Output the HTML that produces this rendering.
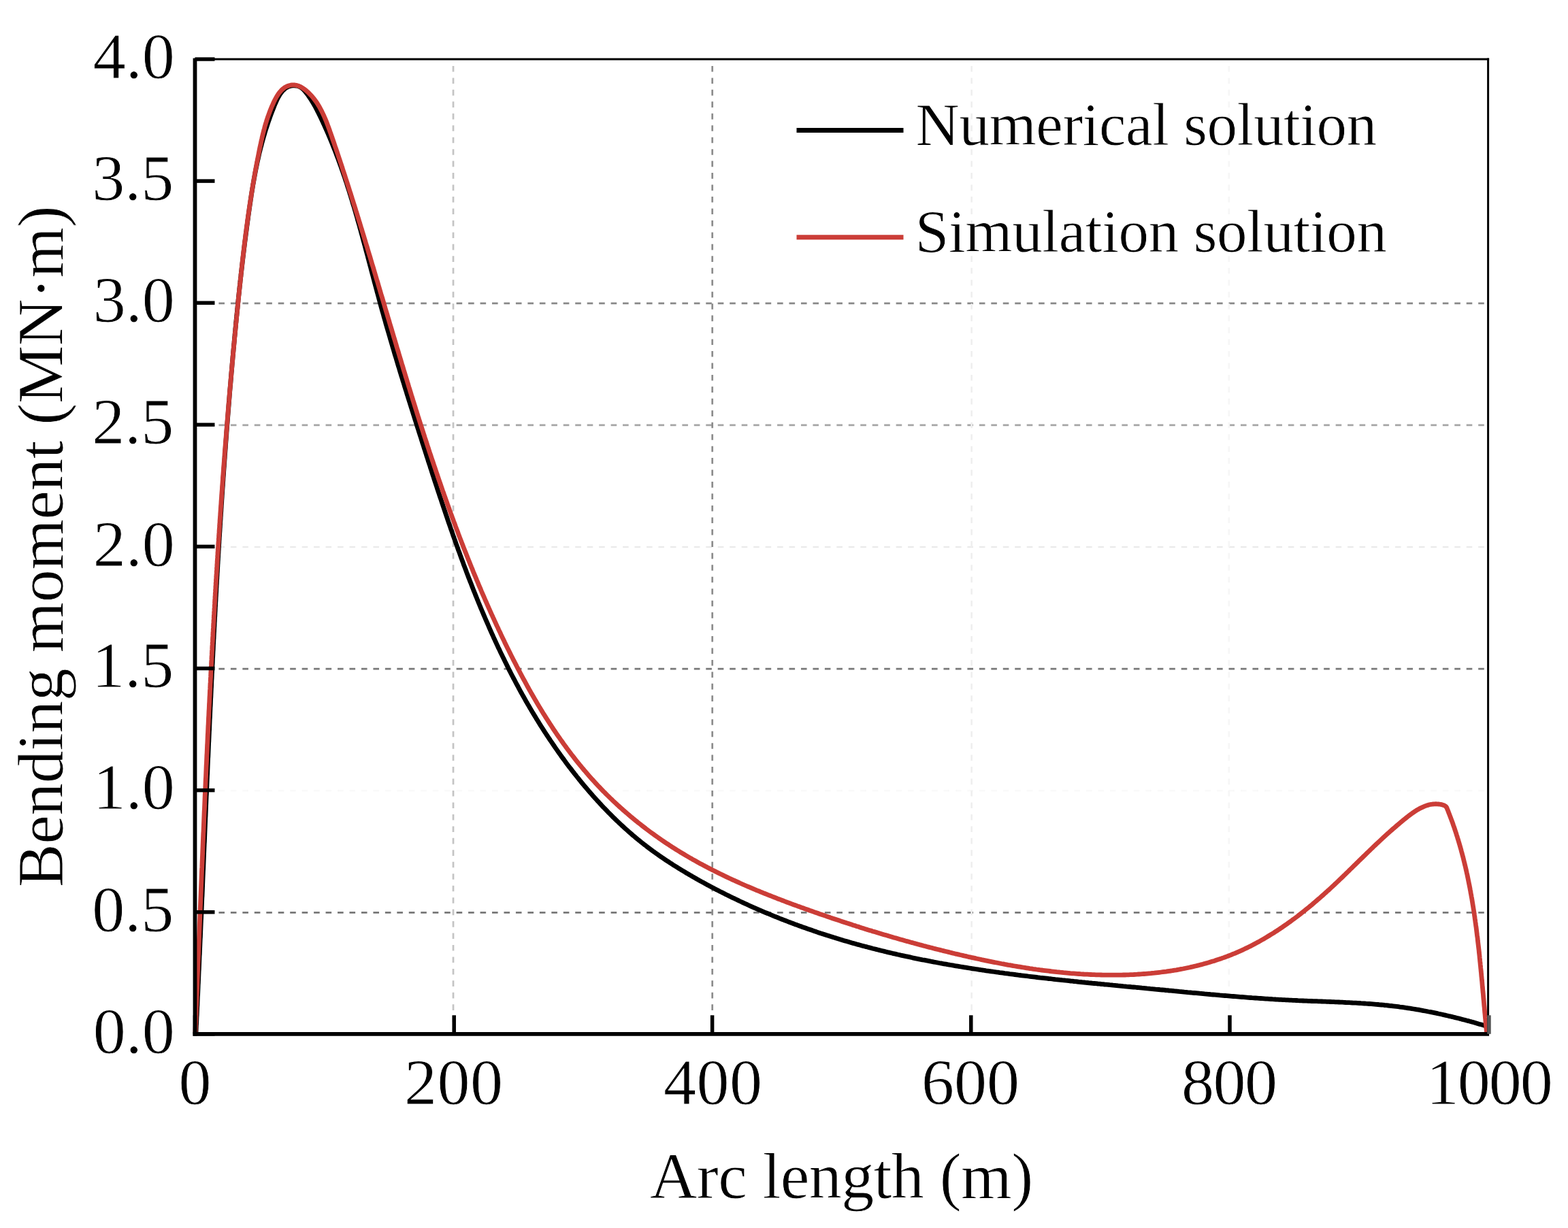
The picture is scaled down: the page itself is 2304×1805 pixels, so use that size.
<!DOCTYPE html>
<html><head><meta charset="utf-8"><title>Bending moment vs arc length</title>
<style>
html,body{margin:0;padding:0;background:#fff;}
body{width:2304px;height:1805px;overflow:hidden;}
svg{display:block;}
.t{font-family:"Liberation Serif","Times New Roman",serif;font-size:96px;fill:#000;stroke:#fff;stroke-width:0.8px;}
.l{font-family:"Liberation Serif","Times New Roman",serif;font-size:89px;fill:#000;stroke:#fff;stroke-width:0.8px;}
</style></head><body>
<svg width="2304" height="1805" viewBox="0 0 2304 1805">
<rect width="2304" height="1805" fill="#fff"/>
<line x1="286.5" y1="1341.3" x2="2185.0" y2="1341.3" stroke="#777777" stroke-width="2.7" stroke-dasharray="8.6 8.86"/>
<line x1="286.5" y1="1162.2" x2="2185.0" y2="1162.2" stroke="#f9f9f9" stroke-width="2.7" stroke-dasharray="8.6 8.86"/>
<line x1="286.5" y1="983.1" x2="2185.0" y2="983.1" stroke="#787878" stroke-width="2.7" stroke-dasharray="8.6 8.86"/>
<line x1="286.5" y1="804.0" x2="2185.0" y2="804.0" stroke="#ebebeb" stroke-width="2.7" stroke-dasharray="8.6 8.86"/>
<line x1="286.5" y1="624.9" x2="2185.0" y2="624.9" stroke="#a5a5a5" stroke-width="2.7" stroke-dasharray="8.6 8.86"/>
<line x1="286.5" y1="445.8" x2="2185.0" y2="445.8" stroke="#888888" stroke-width="2.7" stroke-dasharray="8.6 8.86"/>
<line x1="666.0" y1="1519.8" x2="666.0" y2="88.5" stroke="#c4c4c4" stroke-width="2.7" stroke-dasharray="8.6 8.86"/>
<line x1="1046.7" y1="1519.8" x2="1046.7" y2="88.5" stroke="#8c8c8c" stroke-width="2.7" stroke-dasharray="8.6 8.86"/>
<line x1="1427.7" y1="1519.8" x2="1427.7" y2="88.5" stroke="#efefef" stroke-width="2.7" stroke-dasharray="8.6 8.86"/>
<line x1="1805.8" y1="1519.8" x2="1805.8" y2="88.5" stroke="#f6f6f6" stroke-width="2.7" stroke-dasharray="8.6 8.86"/>
<path d="M288.5,1520.0 288.0,1517.5 288.1,1515.0 288.2,1512.5 288.3,1510.0 288.4,1507.5 288.6,1505.0 288.7,1502.5 288.8,1500.0 288.9,1497.5 289.0,1495.0 289.2,1492.5 289.3,1490.0 289.4,1487.5 289.5,1485.0 289.6,1482.5 289.7,1480.0 289.9,1477.5 290.0,1475.0 290.1,1472.5 290.2,1470.0 290.3,1467.5 290.4,1465.0 290.6,1462.5 290.7,1460.0 290.8,1457.5 290.9,1455.0 291.0,1452.5 291.1,1450.0 291.2,1447.5 291.4,1445.0 291.5,1442.5 291.6,1440.0 291.7,1437.5 291.8,1435.0 291.9,1432.5 292.0,1430.0 292.1,1427.5 292.3,1425.0 292.4,1422.5 292.5,1420.0 292.6,1417.5 292.7,1415.0 292.8,1412.5 292.9,1410.0 293.0,1407.5 293.1,1405.0 293.3,1402.5 293.4,1400.0 293.5,1397.5 293.6,1395.0 293.7,1392.5 293.8,1390.0 293.9,1387.5 294.0,1385.0 294.1,1382.5 294.2,1380.0 294.4,1377.5 294.5,1375.0 294.6,1372.5 294.7,1370.0 294.8,1367.5 294.9,1365.0 295.0,1362.5 295.1,1360.0 295.2,1357.5 295.3,1355.0 295.4,1352.5 295.6,1350.0 295.7,1347.5 295.8,1345.0 295.9,1342.5 296.0,1340.0 296.1,1337.5 296.2,1335.0 296.3,1332.5 296.4,1330.0 296.5,1327.5 296.6,1325.0 296.7,1322.5 296.8,1320.0 297.0,1317.5 297.1,1315.0 297.2,1312.5 297.3,1310.0 297.4,1307.5 297.5,1305.0 297.6,1302.5 297.7,1300.0 297.8,1297.5 297.9,1295.0 298.0,1292.5 298.1,1290.0 298.2,1287.5 298.3,1285.0 298.4,1282.5 298.5,1280.0 298.7,1277.5 298.8,1275.0 298.9,1272.5 299.0,1270.0 299.1,1267.5 299.2,1265.0 299.3,1262.5 299.4,1260.0 299.5,1257.5 299.6,1255.0 299.7,1252.5 299.8,1250.0 299.9,1247.5 300.0,1245.0 300.1,1242.5 300.2,1240.0 300.4,1237.5 300.5,1235.0 300.6,1232.5 300.7,1230.0 300.8,1227.5 300.9,1225.0 301.0,1222.5 301.1,1220.0 301.2,1217.5 301.3,1215.0 301.4,1212.5 301.5,1210.0 301.6,1207.5 301.7,1205.0 301.8,1202.5 302.0,1200.0 302.1,1197.5 302.2,1195.0 302.3,1192.5 302.4,1190.0 302.5,1187.5 302.6,1185.0 302.7,1182.5 302.8,1180.0 302.9,1177.5 303.0,1175.0 303.1,1172.5 303.2,1170.0 303.4,1167.5 303.5,1165.0 303.6,1162.5 303.7,1160.0 303.8,1157.5 303.9,1155.0 304.0,1152.5 304.1,1150.0 304.2,1147.5 304.3,1145.0 304.4,1142.5 304.5,1140.0 304.7,1137.5 304.8,1135.0 304.9,1132.5 305.0,1130.0 305.1,1127.5 305.2,1125.0 305.3,1122.5 305.4,1120.0 305.5,1117.5 305.6,1115.0 305.8,1112.5 305.9,1110.0 306.0,1107.5 306.1,1105.0 306.2,1102.5 306.3,1100.0 306.4,1097.5 306.5,1095.0 306.6,1092.5 306.8,1090.0 306.9,1087.6 307.0,1085.1 307.1,1082.6 307.2,1080.1 307.3,1077.6 307.4,1075.1 307.6,1072.6 307.7,1070.1 307.8,1067.6 307.9,1065.1 308.0,1062.6 308.1,1060.1 308.2,1057.6 308.4,1055.1 308.5,1052.6 308.6,1050.1 308.7,1047.6 308.8,1045.1 308.9,1042.6 309.0,1040.1 309.2,1037.6 309.3,1035.1 309.4,1032.6 309.5,1030.1 309.6,1027.6 309.8,1025.1 309.9,1022.6 310.0,1020.1 310.1,1017.6 310.2,1015.1 310.3,1012.6 310.5,1010.1 310.6,1007.6 310.7,1005.1 310.8,1002.6 310.9,1000.1 311.1,997.6 311.2,995.1 311.3,992.6 311.4,990.1 311.6,987.6 311.7,985.1 311.8,982.6 311.9,980.1 312.0,977.6 312.2,975.1 312.3,972.6 312.4,970.1 312.5,967.6 312.7,965.1 312.8,962.6 312.9,960.1 313.0,957.6 313.2,955.1 313.3,952.6 313.4,950.1 313.5,947.6 313.7,945.1 313.8,942.6 313.9,940.2 314.1,937.7 314.2,935.2 314.3,932.7 314.4,930.2 314.6,927.7 314.7,925.2 314.8,922.7 315.0,920.2 315.1,917.7 315.2,915.2 315.4,912.7 315.5,910.2 315.6,907.7 315.8,905.2 315.9,902.7 316.0,900.2 316.2,897.7 316.3,895.2 316.4,892.7 316.6,890.2 316.7,887.7 316.8,885.2 317.0,882.7 317.1,880.2 317.2,877.7 317.4,875.2 317.5,872.7 317.7,870.2 317.8,867.7 317.9,865.2 318.1,862.7 318.2,860.2 318.4,857.7 318.5,855.2 318.6,852.7 318.8,850.2 318.9,847.7 319.1,845.2 319.2,842.7 319.4,840.2 319.5,837.8 319.6,835.3 319.8,832.8 319.9,830.3 320.1,827.8 320.2,825.3 320.4,822.8 320.5,820.3 320.7,817.8 320.8,815.3 321.0,812.8 321.1,810.3 321.3,807.8 321.4,805.3 321.6,802.8 321.7,800.3 321.9,797.8 322.0,795.3 322.2,792.8 322.3,790.3 322.5,787.8 322.6,785.3 322.8,782.8 323.0,780.3 323.1,777.8 323.3,775.3 323.4,772.8 323.6,770.3 323.7,767.8 323.9,765.3 324.1,762.8 324.2,760.3 324.4,757.9 324.5,755.4 324.7,752.9 324.9,750.4 325.0,747.9 325.2,745.4 325.3,742.9 325.5,740.4 325.7,737.9 325.8,735.4 326.0,732.9 326.2,730.4 326.3,727.9 326.5,725.4 326.7,722.9 326.8,720.4 327.0,717.9 327.2,715.4 327.4,712.9 327.5,710.4 327.7,707.9 327.9,705.4 328.0,702.9 328.2,700.4 328.4,697.9 328.6,695.4 328.7,692.9 328.9,690.4 329.1,688.0 329.3,685.5 329.4,683.0 329.6,680.5 329.8,678.0 330.0,675.5 330.2,673.0 330.3,670.5 330.5,668.0 330.7,665.5 330.9,663.0 331.1,660.5 331.3,658.0 331.4,655.5 331.6,653.0 331.8,650.5 332.0,648.0 332.2,645.5 332.4,643.0 332.6,640.5 332.8,638.0 332.9,635.5 333.1,633.0 333.3,630.5 333.5,628.0 333.7,625.6 333.9,623.1 334.1,620.6 334.3,618.1 334.5,615.6 334.7,613.1 334.9,610.6 335.1,608.1 335.3,605.6 335.5,603.1 335.7,600.6 335.9,598.1 336.1,595.6 336.3,593.1 336.5,590.6 336.7,588.1 336.9,585.6 337.1,583.1 337.3,580.6 337.5,578.1 337.7,575.6 337.9,573.1 338.1,570.7 338.3,568.2 338.6,565.7 338.8,563.2 339.0,560.7 339.2,558.2 339.4,555.7 339.6,553.2 339.8,550.7 340.0,548.2 340.3,545.7 340.5,543.2 340.7,540.7 340.9,538.2 341.1,535.7 341.3,533.2 341.6,530.7 341.8,528.2 342.0,525.7 342.2,523.2 342.5,520.8 342.7,518.3 342.9,515.8 343.1,513.3 343.4,510.8 343.6,508.3 343.8,505.8 344.1,503.3 344.3,500.8 344.5,498.3 344.7,495.8 345.0,493.3 345.2,490.8 345.4,488.3 345.7,485.8 345.9,483.3 346.2,480.8 346.4,478.3 346.6,475.9 346.9,473.4 347.1,470.9 347.4,468.4 347.6,465.9 347.9,463.4 348.1,460.9 348.4,458.4 348.6,455.9 348.9,453.4 349.1,450.9 349.4,448.4 349.6,445.9 349.9,443.5 350.1,441.0 350.4,438.5 350.6,436.0 350.9,433.5 351.2,431.0 351.4,428.5 351.7,426.0 352.0,423.5 352.2,421.1 352.5,418.6 352.8,416.1 353.0,413.6 353.3,411.1 353.6,408.6 353.9,406.1 354.1,403.6 354.4,401.2 354.7,398.7 355.0,396.2 355.3,393.7 355.6,391.2 355.8,388.7 356.1,386.3 356.4,383.8 356.7,381.3 357.0,378.8 357.3,376.3 357.6,373.9 357.9,371.4 358.2,368.9 358.5,366.4 358.8,363.9 359.1,361.5 359.4,359.0 359.7,356.5 360.0,354.0 360.4,351.6 360.7,349.1 361.0,346.6 361.3,344.1 361.6,341.7 362.0,339.2 362.3,336.7 362.6,334.3 362.9,331.8 363.3,329.3 363.6,326.8 363.9,324.4 364.3,321.9 364.6,319.4 364.9,317.0 365.3,314.5 365.6,312.0 366.0,309.6 366.3,307.1 366.7,304.7 367.0,302.2 367.4,299.7 367.8,297.3 368.1,294.8 368.5,292.4 368.9,289.9 369.2,287.4 369.6,285.0 370.0,282.5 370.4,280.1 370.8,277.6 371.2,275.2 371.6,272.7 372.0,270.3 372.5,267.8 372.9,265.4 373.3,262.9 373.8,260.5 374.2,258.0 374.7,255.6 375.1,253.1 375.6,250.7 376.1,248.2 376.6,245.8 377.1,243.3 377.6,240.9 378.1,238.4 378.6,236.0 379.2,233.6 379.7,231.1 380.3,228.7 380.8,226.2 381.4,223.8 382.0,221.4 382.6,218.9 383.2,216.5 383.9,214.1 384.5,211.6 385.1,209.2 385.8,206.8 386.5,204.3 387.2,201.9 387.9,199.5 388.6,197.0 389.3,194.6 390.0,192.2 390.8,189.7 391.6,187.3 392.4,184.9 393.2,182.5 394.0,180.0 394.8,177.6 395.7,175.2 396.5,172.8 397.4,170.4 398.3,167.9 399.2,165.5 400.1,163.1 401.1,160.7 402.1,158.3 403.0,155.8 404.0,153.4 405.1,151.0 406.1,148.7 407.2,146.3 408.3,144.1 409.5,141.9 410.8,139.7 412.1,137.7 413.5,135.8 414.9,134.0 416.5,132.4 418.1,130.9 419.8,129.5 421.6,128.4 423.6,127.4 425.6,126.7 427.8,126.1 430.1,125.8 432.5,125.8 435.0,126.0 437.5,126.5 439.9,127.4 442.1,128.5 444.1,130.0 446.0,131.8 447.7,133.7 449.3,135.7 450.9,137.7 452.5,139.7 453.9,141.8 455.4,143.9 456.8,146.0 458.1,148.1 459.4,150.3 460.7,152.4 461.9,154.6 463.2,156.8 464.3,159.0 465.5,161.3 466.6,163.5 467.8,165.7 468.9,168.0 470.0,170.2 471.1,172.5 472.1,174.7 473.2,177.0 474.3,179.3 475.3,181.5 476.4,183.8 477.4,186.1 478.4,188.4 479.4,190.7 480.4,192.9 481.4,195.2 482.4,197.5 483.4,199.8 484.4,202.1 485.3,204.4 486.3,206.7 487.2,209.0 488.2,211.3 489.1,213.7 490.0,216.0 490.9,218.3 491.9,220.6 492.8,223.0 493.7,225.3 494.5,227.6 495.4,230.0 496.3,232.3 497.2,234.6 498.0,237.0 498.9,239.3 499.7,241.7 500.6,244.0 501.4,246.4 502.2,248.7 503.1,251.1 503.9,253.4 504.7,255.8 505.5,258.2 506.3,260.5 507.1,262.9 507.9,265.3 508.7,267.6 509.5,270.0 510.2,272.4 511.0,274.8 511.8,277.2 512.5,279.5 513.3,281.9 514.0,284.3 514.8,286.7 515.5,289.1 516.2,291.5 517.0,293.9 517.7,296.3 518.4,298.7 519.1,301.1 519.9,303.4 520.6,305.8 521.3,308.2 522.0,310.7 522.7,313.1 523.4,315.5 524.1,317.9 524.8,320.3 525.4,322.7 526.1,325.1 526.8,327.5 527.5,329.9 528.2,332.3 528.8,334.7 529.5,337.1 530.2,339.6 530.8,342.0 531.5,344.4 532.2,346.8 532.8,349.2 533.5,351.6 534.1,354.1 534.8,356.5 535.4,358.9 536.1,361.3 536.7,363.7 537.4,366.2 538.0,368.6 538.7,371.0 539.3,373.4 540.0,375.8 540.6,378.3 541.3,380.7 541.9,383.1 542.5,385.5 543.2,387.9 543.8,390.4 544.5,392.8 545.1,395.2 545.7,397.6 546.4,400.1 547.0,402.5 547.7,404.9 548.3,407.3 548.9,409.7 549.6,412.2 550.2,414.6 550.9,417.0 551.5,419.4 552.2,421.8 552.8,424.2 553.5,426.7 554.1,429.1 554.8,431.5 555.4,433.9 556.1,436.3 556.7,438.7 557.4,441.1 558.0,443.5 558.7,446.0 559.3,448.4 560.0,450.8 560.7,453.2 561.3,455.6 562.0,458.0 562.7,460.4 563.4,462.8 564.0,465.2 564.7,467.6 565.4,470.0 566.1,472.4 566.7,474.8 567.4,477.2 568.1,479.6 568.8,482.0 569.5,484.4 570.2,486.8 570.9,489.1 571.6,491.5 572.3,493.9 573.0,496.3 573.7,498.7 574.4,501.1 575.1,503.5 575.8,505.9 576.5,508.3 577.2,510.7 577.9,513.0 578.6,515.4 579.3,517.8 580.0,520.2 580.7,522.6 581.5,525.0 582.2,527.3 582.9,529.7 583.6,532.1 584.3,534.5 585.0,536.9 585.8,539.3 586.5,541.6 587.2,544.0 587.9,546.4 588.7,548.8 589.4,551.2 590.1,553.5 590.9,555.9 591.6,558.3 592.3,560.7 593.1,563.0 593.8,565.4 594.5,567.8 595.3,570.2 596.0,572.6 596.8,574.9 597.5,577.3 598.2,579.7 599.0,582.1 599.7,584.4 600.5,586.8 601.2,589.2 602.0,591.6 602.7,594.0 603.5,596.3 604.2,598.7 605.0,601.1 605.7,603.5 606.5,605.8 607.2,608.2 608.0,610.6 608.7,613.0 609.5,615.4 610.2,617.7 611.0,620.1 611.7,622.5 612.5,624.9 613.2,627.2 614.0,629.6 614.8,632.0 615.5,634.4 616.3,636.8 617.0,639.1 617.8,641.5 618.6,643.9 619.3,646.3 620.1,648.7 620.8,651.1 621.6,653.4 622.4,655.8 623.1,658.2 623.9,660.6 624.7,663.0 625.4,665.4 626.2,667.7 626.9,670.1 627.7,672.5 628.5,674.9 629.2,677.3 630.0,679.7 630.8,682.1 631.6,684.4 632.3,686.8 633.1,689.2 633.9,691.6 634.6,694.0 635.4,696.4 636.2,698.8 637.0,701.1 637.7,703.5 638.5,705.9 639.3,708.3 640.1,710.7 640.9,713.1 641.7,715.5 642.4,717.8 643.2,720.2 644.0,722.6 644.8,725.0 645.6,727.4 646.4,729.8 647.2,732.2 648.0,734.5 648.8,736.9 649.6,739.3 650.4,741.7 651.2,744.1 652.0,746.5 652.8,748.8 653.6,751.2 654.4,753.6 655.2,756.0 656.0,758.4 656.8,760.7 657.6,763.1 658.4,765.5 659.2,767.9 660.1,770.2 660.9,772.6 661.7,775.0 662.5,777.4 663.4,779.7 664.2,782.1 665.0,784.5 665.8,786.9 666.7,789.2 667.5,791.6 668.4,794.0 669.2,796.3 670.0,798.7 670.9,801.1 671.7,803.4 672.6,805.8 673.4,808.2 674.3,810.5 675.2,812.9 676.0,815.2 676.9,817.6 677.7,820.0 678.6,822.3 679.5,824.7 680.4,827.0 681.2,829.4 682.1,831.7 683.0,834.1 683.9,836.4 684.8,838.8 685.6,841.1 686.5,843.5 687.4,845.8 688.3,848.2 689.2,850.5 690.1,852.8 691.0,855.2 692.0,857.5 692.9,859.9 693.8,862.2 694.7,864.5 695.6,866.9 696.5,869.2 697.5,871.5 698.4,873.8 699.3,876.2 700.3,878.5 701.2,880.8 702.2,883.1 703.1,885.5 704.1,887.8 705.0,890.1 706.0,892.4 706.9,894.7 707.9,897.0 708.9,899.3 709.9,901.6 710.8,903.9 711.8,906.2 712.8,908.5 713.8,910.8 714.8,913.1 715.8,915.4 716.8,917.7 717.8,920.0 718.8,922.3 719.8,924.6 720.8,926.9 721.8,929.2 722.8,931.4 723.9,933.7 724.9,936.0 725.9,938.3 727.0,940.5 728.0,942.8 729.1,945.1 730.1,947.3 731.2,949.6 732.2,951.9 733.3,954.1 734.4,956.4 735.4,958.6 736.5,960.9 737.6,963.1 738.7,965.4 739.8,967.6 740.9,969.8 742.0,972.1 743.1,974.3 744.2,976.5 745.3,978.8 746.4,981.0 747.5,983.2 748.6,985.5 749.8,987.7 750.9,989.9 752.0,992.1 753.2,994.3 754.3,996.5 755.5,998.7 756.7,1000.9 757.8,1003.1 759.0,1005.3 760.2,1007.5 761.4,1009.7 762.5,1011.9 763.7,1014.1 764.9,1016.3 766.1,1018.5 767.3,1020.6 768.5,1022.8 769.8,1025.0 771.0,1027.1 772.2,1029.3 773.4,1031.5 774.7,1033.6 775.9,1035.8 777.2,1037.9 778.4,1040.1 779.7,1042.2 781.0,1044.4 782.2,1046.5 783.5,1048.6 784.8,1050.8 786.1,1052.9 787.4,1055.0 788.7,1057.2 790.0,1059.3 791.3,1061.4 792.6,1063.5 793.9,1065.6 795.2,1067.7 796.6,1069.8 797.9,1071.9 799.3,1074.0 800.6,1076.1 802.0,1078.2 803.3,1080.3 804.7,1082.3 806.1,1084.4 807.5,1086.5 808.9,1088.6 810.3,1090.6 811.7,1092.7 813.1,1094.8 814.5,1096.8 815.9,1098.9 817.3,1100.9 818.7,1102.9 820.2,1105.0 821.6,1107.0 823.1,1109.1 824.5,1111.1 826.0,1113.1 827.5,1115.1 829.0,1117.1 830.4,1119.1 831.9,1121.2 833.4,1123.2 834.9,1125.2 836.4,1127.2 838.0,1129.1 839.5,1131.1 841.0,1133.1 842.6,1135.1 844.1,1137.1 845.7,1139.0 847.2,1141.0 848.8,1143.0 850.4,1144.9 851.9,1146.9 853.5,1148.8 855.1,1150.8 856.7,1152.7 858.3,1154.6 859.9,1156.6 861.6,1158.5 863.2,1160.4 864.8,1162.3 866.5,1164.2 868.1,1166.1 869.8,1168.0 871.4,1169.9 873.1,1171.8 874.8,1173.7 876.5,1175.5 878.2,1177.4 879.9,1179.2 881.6,1181.1 883.3,1182.9 885.0,1184.8 886.7,1186.6 888.5,1188.4 890.2,1190.2 892.0,1192.0 893.7,1193.8 895.5,1195.6 897.3,1197.4 899.0,1199.2 900.8,1201.0 902.6,1202.7 904.4,1204.5 906.2,1206.2 908.0,1207.9 909.9,1209.7 911.7,1211.4 913.5,1213.1 915.4,1214.8 917.2,1216.5 919.1,1218.2 920.9,1219.8 922.8,1221.5 924.7,1223.2 926.6,1224.8 928.4,1226.4 930.3,1228.1 932.3,1229.7 934.2,1231.3 936.1,1232.9 938.0,1234.5 940.0,1236.0 941.9,1237.6 943.8,1239.1 945.8,1240.7 947.8,1242.2 949.7,1243.7 951.7,1245.2 953.7,1246.7 955.7,1248.2 957.7,1249.7 959.7,1251.2 961.7,1252.6 963.7,1254.1 965.8,1255.5 967.8,1257.0 969.8,1258.4 971.9,1259.8 973.9,1261.2 976.0,1262.6 978.0,1264.0 980.1,1265.3 982.2,1266.7 984.3,1268.1 986.4,1269.4 988.4,1270.8 990.5,1272.1 992.6,1273.4 994.7,1274.7 996.9,1276.1 999.0,1277.4 1001.1,1278.7 1003.2,1279.9 1005.3,1281.2 1007.5,1282.5 1009.6,1283.8 1011.8,1285.0 1013.9,1286.3 1016.1,1287.5 1018.2,1288.8 1020.4,1290.0 1022.5,1291.2 1024.7,1292.5 1026.9,1293.7 1029.1,1294.9 1031.2,1296.1 1033.4,1297.3 1035.6,1298.5 1037.8,1299.7 1040.0,1300.9 1042.2,1302.1 1044.4,1303.2 1046.6,1304.4 1048.8,1305.6 1051.0,1306.7 1053.2,1307.9 1055.5,1309.0 1057.7,1310.2 1059.9,1311.3 1062.1,1312.4 1064.4,1313.5 1066.6,1314.7 1068.8,1315.8 1071.1,1316.9 1073.3,1318.0 1075.6,1319.1 1077.8,1320.2 1080.1,1321.2 1082.3,1322.3 1084.6,1323.4 1086.8,1324.5 1089.1,1325.5 1091.4,1326.6 1093.6,1327.6 1095.9,1328.7 1098.2,1329.7 1100.5,1330.8 1102.8,1331.8 1105.0,1332.8 1107.3,1333.8 1109.6,1334.8 1111.9,1335.8 1114.2,1336.8 1116.5,1337.8 1118.8,1338.8 1121.1,1339.8 1123.4,1340.8 1125.7,1341.8 1128.1,1342.7 1130.4,1343.7 1132.7,1344.7 1135.0,1345.6 1137.3,1346.6 1139.6,1347.5 1142.0,1348.4 1144.3,1349.4 1146.6,1350.3 1149.0,1351.2 1151.3,1352.1 1153.6,1353.0 1156.0,1353.9 1158.3,1354.8 1160.7,1355.7 1163.0,1356.6 1165.4,1357.5 1167.7,1358.4 1170.1,1359.2 1172.4,1360.1 1174.8,1361.0 1177.1,1361.8 1179.5,1362.7 1181.9,1363.5 1184.2,1364.3 1186.6,1365.2 1189.0,1366.0 1191.3,1366.8 1193.7,1367.6 1196.1,1368.5 1198.5,1369.3 1200.8,1370.1 1203.2,1370.9 1205.6,1371.7 1208.0,1372.4 1210.4,1373.2 1212.7,1374.0 1215.1,1374.8 1217.5,1375.5 1219.9,1376.3 1222.3,1377.0 1224.7,1377.8 1227.1,1378.5 1229.5,1379.3 1231.9,1380.0 1234.3,1380.7 1236.7,1381.4 1239.1,1382.2 1241.5,1382.9 1243.9,1383.6 1246.3,1384.3 1248.7,1385.0 1251.1,1385.7 1253.5,1386.4 1255.9,1387.0 1258.3,1387.7 1260.7,1388.4 1263.1,1389.0 1265.6,1389.7 1268.0,1390.4 1270.4,1391.0 1272.8,1391.6 1275.2,1392.3 1277.6,1392.9 1280.1,1393.5 1282.5,1394.2 1284.9,1394.8 1287.3,1395.4 1289.8,1396.0 1292.2,1396.6 1294.6,1397.2 1297.0,1397.8 1299.5,1398.4 1301.9,1399.0 1304.3,1399.6 1306.7,1400.1 1309.2,1400.7 1311.6,1401.3 1314.0,1401.8 1316.5,1402.4 1318.9,1403.0 1321.3,1403.5 1323.8,1404.1 1326.2,1404.6 1328.7,1405.1 1331.1,1405.7 1333.5,1406.2 1336.0,1406.7 1338.4,1407.2 1340.9,1407.8 1343.3,1408.3 1345.7,1408.8 1348.2,1409.3 1350.6,1409.8 1353.1,1410.3 1355.5,1410.8 1358.0,1411.2 1360.4,1411.7 1362.9,1412.2 1365.3,1412.7 1367.8,1413.2 1370.2,1413.6 1372.7,1414.1 1375.1,1414.5 1377.6,1415.0 1380.1,1415.5 1382.5,1415.9 1385.0,1416.4 1387.4,1416.8 1389.9,1417.2 1392.3,1417.7 1394.8,1418.1 1397.3,1418.5 1399.7,1418.9 1402.2,1419.4 1404.6,1419.8 1407.1,1420.2 1409.6,1420.6 1412.0,1421.0 1414.5,1421.4 1417.0,1421.8 1419.4,1422.2 1421.9,1422.6 1424.4,1423.0 1426.8,1423.4 1429.3,1423.8 1431.8,1424.2 1434.2,1424.5 1436.7,1424.9 1439.2,1425.3 1441.6,1425.7 1444.1,1426.0 1446.6,1426.4 1449.1,1426.8 1451.5,1427.1 1454.0,1427.5 1456.5,1427.8 1459.0,1428.2 1461.4,1428.5 1463.9,1428.9 1466.4,1429.2 1468.9,1429.6 1471.3,1429.9 1473.8,1430.2 1476.3,1430.6 1478.8,1430.9 1481.3,1431.2 1483.7,1431.6 1486.2,1431.9 1488.7,1432.2 1491.2,1432.5 1493.7,1432.8 1496.1,1433.2 1498.6,1433.5 1501.1,1433.8 1503.6,1434.1 1506.1,1434.4 1508.6,1434.7 1511.0,1435.0 1513.5,1435.3 1516.0,1435.6 1518.5,1435.9 1521.0,1436.2 1523.5,1436.5 1525.9,1436.8 1528.4,1437.1 1530.9,1437.3 1533.4,1437.6 1535.9,1437.9 1538.4,1438.2 1540.9,1438.5 1543.4,1438.7 1545.8,1439.0 1548.3,1439.3 1550.8,1439.6 1553.3,1439.8 1555.8,1440.1 1558.3,1440.4 1560.8,1440.7 1563.3,1440.9 1565.8,1441.2 1568.3,1441.4 1570.7,1441.7 1573.2,1442.0 1575.7,1442.2 1578.2,1442.5 1580.7,1442.7 1583.2,1443.0 1585.7,1443.3 1588.2,1443.5 1590.7,1443.8 1593.2,1444.0 1595.7,1444.3 1598.1,1444.5 1600.6,1444.8 1603.1,1445.0 1605.6,1445.3 1608.1,1445.5 1610.6,1445.7 1613.1,1446.0 1615.6,1446.2 1618.1,1446.5 1620.6,1446.7 1623.1,1447.0 1625.6,1447.2 1628.1,1447.4 1630.6,1447.7 1633.1,1447.9 1635.5,1448.2 1638.0,1448.4 1640.5,1448.6 1643.0,1448.9 1645.5,1449.1 1648.0,1449.3 1650.5,1449.6 1653.0,1449.8 1655.5,1450.1 1658.0,1450.3 1660.5,1450.5 1663.0,1450.8 1665.5,1451.0 1668.0,1451.2 1670.4,1451.5 1672.9,1451.7 1675.4,1451.9 1677.9,1452.2 1680.4,1452.4 1682.9,1452.6 1685.4,1452.9 1687.9,1453.1 1690.4,1453.4 1692.9,1453.6 1695.4,1453.8 1697.9,1454.1 1700.4,1454.3 1702.8,1454.5 1705.3,1454.8 1707.8,1455.0 1710.3,1455.2 1712.8,1455.5 1715.3,1455.7 1717.8,1456.0 1720.3,1456.2 1722.8,1456.4 1725.3,1456.7 1727.8,1456.9 1730.2,1457.1 1732.7,1457.4 1735.2,1457.6 1737.7,1457.8 1740.2,1458.1 1742.7,1458.3 1745.2,1458.6 1747.7,1458.8 1750.2,1459.0 1752.6,1459.3 1755.1,1459.5 1757.6,1459.7 1760.1,1459.9 1762.6,1460.2 1765.1,1460.4 1767.6,1460.6 1770.1,1460.9 1772.6,1461.1 1775.1,1461.3 1777.5,1461.5 1780.0,1461.8 1782.5,1462.0 1785.0,1462.2 1787.5,1462.4 1790.0,1462.6 1792.5,1462.9 1795.0,1463.1 1797.5,1463.3 1800.0,1463.5 1802.4,1463.7 1804.9,1463.9 1807.4,1464.1 1809.9,1464.3 1812.4,1464.5 1814.9,1464.7 1817.4,1464.9 1819.9,1465.1 1822.4,1465.3 1824.9,1465.5 1827.4,1465.7 1829.9,1465.9 1832.3,1466.1 1834.8,1466.3 1837.3,1466.5 1839.8,1466.7 1842.3,1466.8 1844.8,1467.0 1847.3,1467.2 1849.8,1467.4 1852.3,1467.5 1854.8,1467.7 1857.3,1467.9 1859.8,1468.1 1862.3,1468.2 1864.8,1468.4 1867.3,1468.5 1869.8,1468.7 1872.3,1468.8 1874.8,1469.0 1877.3,1469.1 1879.8,1469.3 1882.3,1469.4 1884.8,1469.6 1887.3,1469.7 1889.8,1469.8 1892.3,1469.9 1894.8,1470.1 1897.3,1470.2 1899.8,1470.3 1902.3,1470.4 1904.8,1470.5 1907.3,1470.7 1909.8,1470.8 1912.3,1470.9 1914.8,1471.0 1917.3,1471.1 1919.8,1471.2 1922.3,1471.3 1924.8,1471.4 1927.3,1471.5 1929.8,1471.6 1932.3,1471.6 1934.8,1471.7 1937.3,1471.8 1939.8,1471.9 1942.3,1472.0 1944.8,1472.1 1947.3,1472.2 1949.8,1472.3 1952.3,1472.4 1954.8,1472.5 1957.3,1472.6 1959.8,1472.7 1962.3,1472.8 1964.8,1472.9 1967.3,1473.0 1969.8,1473.1 1972.3,1473.2 1974.8,1473.3 1977.3,1473.5 1979.8,1473.6 1982.3,1473.7 1984.8,1473.8 1987.3,1474.0 1989.8,1474.1 1992.3,1474.2 1994.8,1474.4 1997.3,1474.5 1999.8,1474.7 2002.3,1474.8 2004.8,1475.0 2007.3,1475.2 2009.8,1475.3 2012.3,1475.5 2014.8,1475.7 2017.3,1475.9 2019.8,1476.1 2022.3,1476.3 2024.8,1476.5 2027.3,1476.8 2029.7,1477.0 2032.2,1477.2 2034.7,1477.5 2037.2,1477.7 2039.7,1478.0 2042.2,1478.3 2044.6,1478.5 2047.1,1478.8 2049.6,1479.1 2052.1,1479.4 2054.6,1479.7 2057.0,1480.1 2059.5,1480.4 2062.0,1480.7 2064.5,1481.1 2066.9,1481.5 2069.4,1481.8 2071.9,1482.2 2074.3,1482.6 2076.8,1483.0 2079.3,1483.4 2081.7,1483.8 2084.2,1484.2 2086.6,1484.7 2089.1,1485.1 2091.6,1485.6 2094.0,1486.0 2096.5,1486.5 2098.9,1487.0 2101.4,1487.4 2103.8,1487.9 2106.3,1488.4 2108.7,1488.9 2111.2,1489.4 2113.6,1490.0 2116.1,1490.5 2118.5,1491.0 2121.0,1491.6 2123.4,1492.1 2125.8,1492.7 2128.3,1493.3 2130.7,1493.8 2133.1,1494.4 2135.6,1495.0 2138.0,1495.6 2140.4,1496.2 2142.9,1496.8 2145.3,1497.4 2147.7,1498.1 2150.1,1498.7 2152.5,1499.3 2155.0,1500.0 2157.4,1500.6 2159.8,1501.3 2162.2,1501.9 2164.6,1502.6 2167.0,1503.3 2169.4,1504.0 2171.8,1504.7 2174.2,1505.4 2176.7,1506.1 2179.1,1506.8 2181.5,1507.5 2184.0,1507.5" fill="none" stroke="#000" stroke-width="6.8" stroke-linejoin="round"/>
<path d="M287.7,1520.0 287.0,1517.5 287.1,1515.0 287.2,1512.5 287.3,1510.0 287.4,1507.5 287.5,1505.0 287.6,1502.5 287.7,1500.0 287.8,1497.5 287.9,1495.0 288.0,1492.5 288.1,1490.0 288.2,1487.5 288.3,1485.0 288.4,1482.5 288.5,1480.0 288.6,1477.5 288.7,1475.0 288.8,1472.5 288.9,1470.0 289.0,1467.5 289.1,1465.0 289.2,1462.5 289.3,1460.0 289.4,1457.5 289.5,1455.0 289.6,1452.5 289.7,1450.0 289.8,1447.5 289.9,1444.9 290.0,1442.4 290.1,1439.9 290.2,1437.4 290.3,1434.9 290.4,1432.4 290.5,1429.9 290.6,1427.4 290.7,1424.9 290.8,1422.4 290.9,1419.9 291.0,1417.4 291.1,1414.9 291.2,1412.4 291.3,1409.9 291.4,1407.4 291.5,1404.9 291.6,1402.4 291.7,1399.9 291.8,1397.4 291.9,1394.9 292.0,1392.4 292.1,1389.9 292.2,1387.4 292.3,1384.9 292.4,1382.4 292.5,1379.9 292.6,1377.4 292.7,1374.9 292.8,1372.4 292.9,1369.9 293.0,1367.4 293.1,1364.9 293.2,1362.4 293.3,1359.9 293.4,1357.4 293.5,1354.9 293.6,1352.4 293.7,1349.9 293.8,1347.4 293.9,1344.9 294.0,1342.4 294.1,1339.9 294.2,1337.4 294.3,1334.9 294.4,1332.4 294.5,1329.9 294.6,1327.4 294.7,1324.9 294.8,1322.4 294.9,1319.9 295.0,1317.4 295.1,1314.9 295.2,1312.4 295.3,1309.9 295.4,1307.4 295.5,1304.9 295.6,1302.4 295.7,1299.9 295.8,1297.4 295.9,1294.9 296.0,1292.4 296.1,1289.9 296.2,1287.4 296.3,1284.9 296.4,1282.4 296.5,1279.9 296.6,1277.4 296.8,1274.9 296.9,1272.4 297.0,1269.9 297.1,1267.4 297.2,1264.9 297.3,1262.4 297.4,1259.9 297.5,1257.4 297.6,1254.9 297.7,1252.4 297.8,1249.9 297.9,1247.4 298.0,1244.9 298.1,1242.4 298.2,1239.8 298.3,1237.3 298.4,1234.8 298.5,1232.3 298.6,1229.8 298.7,1227.3 298.8,1224.8 299.0,1222.3 299.1,1219.8 299.2,1217.3 299.3,1214.8 299.4,1212.3 299.5,1209.8 299.6,1207.3 299.7,1204.8 299.8,1202.3 299.9,1199.8 300.0,1197.3 300.1,1194.8 300.2,1192.3 300.4,1189.8 300.5,1187.3 300.6,1184.8 300.7,1182.3 300.8,1179.8 300.9,1177.3 301.0,1174.8 301.1,1172.3 301.2,1169.8 301.3,1167.3 301.4,1164.8 301.6,1162.3 301.7,1159.8 301.8,1157.3 301.9,1154.8 302.0,1152.3 302.1,1149.8 302.2,1147.3 302.3,1144.8 302.5,1142.3 302.6,1139.8 302.7,1137.3 302.8,1134.8 302.9,1132.3 303.0,1129.8 303.1,1127.3 303.2,1124.8 303.4,1122.3 303.5,1119.8 303.6,1117.3 303.7,1114.8 303.8,1112.3 303.9,1109.8 304.1,1107.3 304.2,1104.8 304.3,1102.3 304.4,1099.8 304.5,1097.3 304.6,1094.8 304.8,1092.3 304.9,1089.8 305.0,1087.3 305.1,1084.8 305.2,1082.3 305.3,1079.8 305.5,1077.3 305.6,1074.8 305.7,1072.3 305.8,1069.8 305.9,1067.3 306.1,1064.8 306.2,1062.3 306.3,1059.8 306.4,1057.3 306.5,1054.8 306.7,1052.3 306.8,1049.8 306.9,1047.3 307.0,1044.8 307.2,1042.3 307.3,1039.8 307.4,1037.3 307.5,1034.8 307.7,1032.3 307.8,1029.8 307.9,1027.3 308.0,1024.8 308.2,1022.3 308.3,1019.9 308.4,1017.4 308.5,1014.9 308.7,1012.4 308.8,1009.9 308.9,1007.4 309.0,1004.9 309.2,1002.4 309.3,999.9 309.4,997.4 309.6,994.9 309.7,992.4 309.8,989.9 309.9,987.4 310.1,984.9 310.2,982.4 310.3,979.9 310.5,977.4 310.6,974.9 310.7,972.4 310.9,969.9 311.0,967.4 311.1,964.9 311.3,962.4 311.4,959.9 311.5,957.4 311.7,954.9 311.8,952.4 311.9,949.9 312.1,947.4 312.2,944.9 312.4,942.4 312.5,939.9 312.6,937.4 312.8,934.9 312.9,932.4 313.0,929.9 313.2,927.4 313.3,924.9 313.5,922.4 313.6,919.9 313.7,917.4 313.9,914.9 314.0,912.4 314.2,909.9 314.3,907.4 314.4,904.9 314.6,902.4 314.7,899.9 314.9,897.4 315.0,894.9 315.2,892.4 315.3,889.9 315.5,887.4 315.6,884.9 315.7,882.4 315.9,879.9 316.0,877.4 316.2,874.9 316.3,872.4 316.5,869.9 316.6,867.4 316.8,864.9 316.9,862.4 317.1,859.9 317.2,857.4 317.4,854.9 317.5,852.5 317.7,850.0 317.8,847.5 318.0,845.0 318.2,842.5 318.3,840.0 318.5,837.5 318.6,835.0 318.8,832.5 318.9,830.0 319.1,827.5 319.2,825.0 319.4,822.5 319.6,820.0 319.7,817.5 319.9,815.0 320.0,812.5 320.2,810.0 320.3,807.5 320.5,805.0 320.7,802.5 320.8,800.0 321.0,797.5 321.2,795.0 321.3,792.5 321.5,790.0 321.6,787.5 321.8,785.0 322.0,782.5 322.1,780.0 322.3,777.5 322.5,775.0 322.6,772.5 322.8,770.0 323.0,767.5 323.1,765.0 323.3,762.5 323.5,760.1 323.7,757.6 323.8,755.1 324.0,752.6 324.2,750.1 324.3,747.6 324.5,745.1 324.7,742.6 324.9,740.1 325.0,737.6 325.2,735.1 325.4,732.6 325.6,730.1 325.7,727.6 325.9,725.1 326.1,722.6 326.3,720.1 326.5,717.6 326.6,715.1 326.8,712.6 327.0,710.1 327.2,707.6 327.4,705.1 327.5,702.6 327.7,700.1 327.9,697.6 328.1,695.1 328.3,692.6 328.5,690.1 328.6,687.7 328.8,685.2 329.0,682.7 329.2,680.2 329.4,677.7 329.6,675.2 329.8,672.7 330.0,670.2 330.1,667.7 330.3,665.2 330.5,662.7 330.7,660.2 330.9,657.7 331.1,655.2 331.3,652.7 331.5,650.2 331.7,647.7 331.9,645.2 332.1,642.7 332.3,640.2 332.5,637.7 332.7,635.2 332.9,632.7 333.1,630.3 333.3,627.8 333.5,625.3 333.7,622.8 333.9,620.3 334.1,617.8 334.3,615.3 334.5,612.8 334.7,610.3 334.9,607.8 335.1,605.3 335.3,602.8 335.5,600.3 335.7,597.8 335.9,595.3 336.1,592.8 336.4,590.3 336.6,587.8 336.8,585.3 337.0,582.8 337.2,580.4 337.4,577.9 337.6,575.4 337.8,572.9 338.1,570.4 338.3,567.9 338.5,565.4 338.7,562.9 338.9,560.4 339.1,557.9 339.4,555.4 339.6,552.9 339.8,550.4 340.0,547.9 340.2,545.4 340.5,542.9 340.7,540.4 340.9,537.9 341.1,535.5 341.4,533.0 341.6,530.5 341.8,528.0 342.0,525.5 342.3,523.0 342.5,520.5 342.7,518.0 343.0,515.5 343.2,513.0 343.4,510.5 343.7,508.0 343.9,505.5 344.1,503.0 344.4,500.5 344.6,498.0 344.8,495.5 345.1,493.1 345.3,490.6 345.5,488.1 345.8,485.6 346.0,483.1 346.3,480.6 346.5,478.1 346.7,475.6 347.0,473.1 347.2,470.6 347.5,468.1 347.7,465.6 348.0,463.1 348.2,460.6 348.5,458.1 348.7,455.7 349.0,453.2 349.2,450.7 349.5,448.2 349.7,445.7 350.0,443.2 350.2,440.7 350.5,438.2 350.7,435.7 351.0,433.2 351.2,430.7 351.5,428.2 351.7,425.7 352.0,423.2 352.3,420.8 352.5,418.3 352.8,415.8 353.1,413.3 353.3,410.8 353.6,408.3 353.9,405.8 354.1,403.3 354.4,400.8 354.7,398.3 354.9,395.8 355.2,393.4 355.5,390.9 355.8,388.4 356.1,385.9 356.3,383.4 356.6,380.9 356.9,378.4 357.2,375.9 357.5,373.5 357.8,371.0 358.1,368.5 358.4,366.0 358.7,363.5 359.0,361.0 359.3,358.5 359.6,356.1 359.9,353.6 360.2,351.1 360.5,348.6 360.8,346.1 361.1,343.7 361.5,341.2 361.8,338.7 362.1,336.2 362.4,333.7 362.8,331.3 363.1,328.8 363.4,326.3 363.8,323.8 364.1,321.4 364.5,318.9 364.8,316.4 365.2,313.9 365.5,311.5 365.9,309.0 366.2,306.5 366.6,304.1 367.0,301.6 367.3,299.1 367.7,296.7 368.1,294.2 368.5,291.7 368.9,289.3 369.2,286.8 369.6,284.3 370.0,281.9 370.4,279.4 370.8,277.0 371.2,274.5 371.6,272.0 372.0,269.6 372.5,267.1 372.9,264.7 373.3,262.2 373.7,259.8 374.2,257.3 374.6,254.9 375.0,252.4 375.5,250.0 375.9,247.5 376.4,245.1 376.8,242.6 377.3,240.2 377.8,237.7 378.2,235.3 378.7,232.9 379.2,230.4 379.7,228.0 380.2,225.5 380.6,223.1 381.1,220.7 381.6,218.2 382.1,215.8 382.7,213.4 383.2,211.0 383.7,208.5 384.2,206.1 384.8,203.7 385.3,201.2 385.9,198.8 386.5,196.4 387.1,194.0 387.7,191.5 388.4,189.1 389.0,186.7 389.7,184.2 390.4,181.8 391.2,179.3 391.9,176.9 392.7,174.5 393.5,172.0 394.4,169.6 395.3,167.1 396.2,164.6 397.1,162.2 398.1,159.7 399.1,157.2 400.2,154.8 401.3,152.3 402.4,149.8 403.6,147.4 404.9,145.0 406.2,142.7 407.5,140.5 408.9,138.3 410.4,136.3 412.0,134.4 413.6,132.6 415.3,131.0 417.1,129.6 418.9,128.3 420.9,127.3 422.8,126.4 424.9,125.7 427.0,125.2 429.1,124.9 431.2,124.9 433.3,125.0 435.4,125.4 437.6,126.0 439.7,126.8 441.8,127.7 443.8,128.9 445.9,130.2 447.9,131.6 449.8,133.2 451.7,134.8 453.5,136.5 455.3,138.3 457.0,140.1 458.7,142.0 460.3,143.9 461.8,145.9 463.3,147.9 464.8,149.9 466.2,152.0 467.5,154.1 468.8,156.2 470.0,158.4 471.2,160.6 472.4,162.8 473.5,165.1 474.6,167.4 475.7,169.7 476.7,172.0 477.7,174.4 478.7,176.7 479.7,179.1 480.6,181.5 481.5,183.9 482.4,186.3 483.3,188.7 484.2,191.2 485.0,193.6 485.9,196.0 486.7,198.5 487.6,200.9 488.4,203.3 489.2,205.8 490.1,208.2 490.9,210.6 491.7,213.0 492.5,215.4 493.4,217.9 494.2,220.3 495.0,222.7 495.8,225.1 496.6,227.5 497.4,229.9 498.2,232.3 499.0,234.7 499.8,237.1 500.6,239.5 501.4,241.9 502.2,244.3 503.0,246.7 503.7,249.1 504.5,251.5 505.3,253.9 506.1,256.3 506.9,258.7 507.6,261.1 508.4,263.5 509.2,265.9 509.9,268.2 510.7,270.6 511.5,273.0 512.2,275.4 513.0,277.8 513.7,280.2 514.5,282.5 515.3,284.9 516.0,287.3 516.8,289.7 517.5,292.1 518.2,294.4 519.0,296.8 519.7,299.2 520.5,301.6 521.2,303.9 522.0,306.3 522.7,308.7 523.4,311.1 524.2,313.4 524.9,315.8 525.6,318.2 526.4,320.6 527.1,322.9 527.8,325.3 528.6,327.7 529.3,330.1 530.0,332.4 530.7,334.8 531.5,337.2 532.2,339.6 532.9,341.9 533.6,344.3 534.3,346.7 535.1,349.1 535.8,351.5 536.5,353.8 537.2,356.2 537.9,358.6 538.7,361.0 539.4,363.3 540.1,365.7 540.8,368.1 541.5,370.5 542.2,372.9 543.0,375.3 543.7,377.6 544.4,380.0 545.1,382.4 545.8,384.8 546.5,387.2 547.2,389.6 548.0,391.9 548.7,394.3 549.4,396.7 550.1,399.1 550.8,401.5 551.5,403.9 552.2,406.3 552.9,408.7 553.6,411.0 554.4,413.4 555.1,415.8 555.8,418.2 556.5,420.6 557.2,423.0 557.9,425.4 558.6,427.8 559.3,430.2 560.0,432.6 560.7,434.9 561.5,437.3 562.2,439.7 562.9,442.1 563.6,444.5 564.3,446.9 565.0,449.3 565.7,451.7 566.4,454.1 567.1,456.5 567.8,458.9 568.6,461.3 569.3,463.7 570.0,466.1 570.7,468.4 571.4,470.8 572.1,473.2 572.8,475.6 573.5,478.0 574.2,480.4 575.0,482.8 575.7,485.2 576.4,487.6 577.1,490.0 577.8,492.4 578.5,494.8 579.2,497.2 580.0,499.6 580.7,502.0 581.4,504.4 582.1,506.8 582.8,509.2 583.5,511.6 584.2,513.9 585.0,516.3 585.7,518.7 586.4,521.1 587.1,523.5 587.8,525.9 588.6,528.3 589.3,530.7 590.0,533.1 590.7,535.5 591.5,537.9 592.2,540.3 592.9,542.7 593.6,545.1 594.4,547.5 595.1,549.9 595.8,552.3 596.5,554.7 597.3,557.0 598.0,559.4 598.7,561.8 599.5,564.2 600.2,566.6 600.9,569.0 601.7,571.4 602.4,573.8 603.1,576.2 603.9,578.6 604.6,581.0 605.4,583.4 606.1,585.8 606.8,588.1 607.6,590.5 608.3,592.9 609.1,595.3 609.8,597.7 610.6,600.1 611.3,602.5 612.1,604.9 612.8,607.3 613.6,609.7 614.3,612.0 615.1,614.4 615.8,616.8 616.6,619.2 617.3,621.6 618.1,624.0 618.9,626.4 619.6,628.7 620.4,631.1 621.2,633.5 621.9,635.9 622.7,638.3 623.5,640.7 624.2,643.0 625.0,645.4 625.8,647.8 626.6,650.2 627.3,652.6 628.1,655.0 628.9,657.3 629.7,659.7 630.4,662.1 631.2,664.5 632.0,666.8 632.8,669.2 633.6,671.6 634.4,674.0 635.2,676.3 636.0,678.7 636.8,681.1 637.6,683.5 638.4,685.8 639.2,688.2 640.0,690.6 640.8,693.0 641.6,695.3 642.4,697.7 643.2,700.1 644.0,702.4 644.8,704.8 645.6,707.2 646.4,709.5 647.3,711.9 648.1,714.3 648.9,716.6 649.7,719.0 650.5,721.4 651.4,723.7 652.2,726.1 653.0,728.5 653.9,730.8 654.7,733.2 655.5,735.5 656.4,737.9 657.2,740.2 658.1,742.6 658.9,745.0 659.8,747.3 660.6,749.7 661.5,752.0 662.3,754.4 663.2,756.7 664.0,759.1 664.9,761.4 665.8,763.8 666.6,766.1 667.5,768.5 668.4,770.8 669.2,773.2 670.1,775.5 671.0,777.9 671.9,780.2 672.8,782.5 673.6,784.9 674.5,787.2 675.4,789.6 676.3,791.9 677.2,794.2 678.1,796.6 679.0,798.9 679.9,801.2 680.8,803.6 681.7,805.9 682.6,808.2 683.5,810.6 684.5,812.9 685.4,815.2 686.3,817.5 687.2,819.9 688.1,822.2 689.1,824.5 690.0,826.8 690.9,829.2 691.9,831.5 692.8,833.8 693.8,836.1 694.7,838.4 695.6,840.8 696.6,843.1 697.5,845.4 698.5,847.7 699.5,850.0 700.4,852.3 701.4,854.6 702.4,856.9 703.3,859.2 704.3,861.6 705.3,863.9 706.3,866.2 707.2,868.5 708.2,870.8 709.2,873.1 710.2,875.4 711.2,877.7 712.2,880.0 713.2,882.3 714.2,884.5 715.2,886.8 716.2,889.1 717.2,891.4 718.2,893.7 719.3,896.0 720.3,898.3 721.3,900.6 722.3,902.8 723.4,905.1 724.4,907.4 725.5,909.7 726.5,912.0 727.5,914.2 728.6,916.5 729.6,918.8 730.7,921.1 731.8,923.3 732.8,925.6 733.9,927.9 735.0,930.1 736.0,932.4 737.1,934.7 738.2,936.9 739.3,939.2 740.4,941.4 741.4,943.7 742.5,946.0 743.6,948.2 744.7,950.5 745.8,952.7 747.0,955.0 748.1,957.2 749.2,959.5 750.3,961.7 751.4,963.9 752.6,966.2 753.7,968.4 754.8,970.7 756.0,972.9 757.1,975.1 758.3,977.4 759.4,979.6 760.6,981.8 761.7,984.0 762.9,986.3 764.1,988.5 765.2,990.7 766.4,992.9 767.6,995.1 768.8,997.3 770.0,999.5 771.2,1001.7 772.4,1003.9 773.6,1006.1 774.8,1008.3 776.0,1010.5 777.2,1012.7 778.5,1014.9 779.7,1017.1 780.9,1019.3 782.2,1021.4 783.4,1023.6 784.7,1025.8 785.9,1027.9 787.2,1030.1 788.5,1032.3 789.7,1034.4 791.0,1036.6 792.3,1038.7 793.6,1040.8 794.9,1043.0 796.2,1045.1 797.5,1047.2 798.8,1049.4 800.2,1051.5 801.5,1053.6 802.8,1055.7 804.2,1057.8 805.5,1059.9 806.9,1062.0 808.2,1064.1 809.6,1066.2 811.0,1068.3 812.3,1070.4 813.7,1072.5 815.1,1074.5 816.5,1076.6 817.9,1078.7 819.3,1080.7 820.7,1082.8 822.2,1084.8 823.6,1086.9 825.0,1088.9 826.5,1090.9 827.9,1093.0 829.4,1095.0 830.9,1097.0 832.3,1099.0 833.8,1101.0 835.3,1103.0 836.8,1105.0 838.3,1107.0 839.8,1109.0 841.3,1110.9 842.9,1112.9 844.4,1114.9 845.9,1116.8 847.5,1118.8 849.0,1120.7 850.6,1122.6 852.2,1124.6 853.8,1126.5 855.3,1128.4 856.9,1130.3 858.5,1132.2 860.2,1134.1 861.8,1136.0 863.4,1137.9 865.0,1139.8 866.7,1141.7 868.3,1143.5 870.0,1145.4 871.7,1147.2 873.4,1149.1 875.0,1150.9 876.7,1152.7 878.4,1154.6 880.2,1156.4 881.9,1158.2 883.6,1160.0 885.4,1161.8 887.1,1163.6 888.9,1165.3 890.6,1167.1 892.4,1168.9 894.2,1170.6 896.0,1172.4 897.8,1174.1 899.6,1175.8 901.4,1177.6 903.2,1179.3 905.1,1181.0 906.9,1182.7 908.7,1184.4 910.6,1186.1 912.5,1187.8 914.3,1189.4 916.2,1191.1 918.1,1192.7 920.0,1194.4 921.9,1196.0 923.8,1197.6 925.7,1199.3 927.6,1200.9 929.6,1202.5 931.5,1204.1 933.4,1205.7 935.4,1207.2 937.3,1208.8 939.3,1210.4 941.3,1211.9 943.2,1213.5 945.2,1215.0 947.2,1216.5 949.2,1218.1 951.2,1219.6 953.2,1221.1 955.2,1222.6 957.2,1224.1 959.3,1225.5 961.3,1227.0 963.3,1228.5 965.4,1229.9 967.4,1231.4 969.5,1232.8 971.5,1234.2 973.6,1235.7 975.7,1237.1 977.7,1238.5 979.8,1239.8 981.9,1241.2 984.0,1242.6 986.1,1244.0 988.2,1245.3 990.3,1246.7 992.4,1248.0 994.5,1249.3 996.7,1250.6 998.8,1252.0 1000.9,1253.3 1003.0,1254.5 1005.2,1255.8 1007.3,1257.1 1009.5,1258.4 1011.6,1259.6 1013.8,1260.9 1016.0,1262.1 1018.1,1263.4 1020.3,1264.6 1022.5,1265.8 1024.6,1267.0 1026.8,1268.2 1029.0,1269.4 1031.2,1270.6 1033.4,1271.8 1035.6,1272.9 1037.8,1274.1 1040.0,1275.3 1042.2,1276.4 1044.4,1277.5 1046.7,1278.7 1048.9,1279.8 1051.1,1280.9 1053.3,1282.0 1055.6,1283.1 1057.8,1284.2 1060.0,1285.3 1062.3,1286.4 1064.5,1287.5 1066.8,1288.6 1069.0,1289.6 1071.3,1290.7 1073.6,1291.8 1075.8,1292.8 1078.1,1293.8 1080.4,1294.9 1082.6,1295.9 1084.9,1296.9 1087.2,1298.0 1089.5,1299.0 1091.7,1300.0 1094.0,1301.0 1096.3,1302.0 1098.6,1303.0 1100.9,1303.9 1103.2,1304.9 1105.5,1305.9 1107.8,1306.9 1110.1,1307.8 1112.4,1308.8 1114.7,1309.7 1117.0,1310.7 1119.4,1311.6 1121.7,1312.6 1124.0,1313.5 1126.3,1314.4 1128.6,1315.4 1131.0,1316.3 1133.3,1317.2 1135.6,1318.1 1138.0,1319.0 1140.3,1319.9 1142.6,1320.9 1145.0,1321.7 1147.3,1322.6 1149.6,1323.5 1152.0,1324.4 1154.3,1325.3 1156.7,1326.2 1159.0,1327.1 1161.4,1327.9 1163.7,1328.8 1166.1,1329.7 1168.4,1330.5 1170.8,1331.4 1173.1,1332.3 1175.5,1333.1 1177.8,1334.0 1180.2,1334.8 1182.6,1335.7 1184.9,1336.5 1187.3,1337.3 1189.7,1338.2 1192.0,1339.0 1194.4,1339.8 1196.7,1340.7 1199.1,1341.5 1201.5,1342.3 1203.9,1343.2 1206.2,1344.0 1208.6,1344.8 1211.0,1345.6 1213.3,1346.4 1215.7,1347.2 1218.1,1348.0 1220.5,1348.9 1222.8,1349.7 1225.2,1350.5 1227.6,1351.3 1230.0,1352.1 1232.4,1352.8 1234.7,1353.6 1237.1,1354.4 1239.5,1355.2 1241.9,1356.0 1244.3,1356.8 1246.7,1357.5 1249.0,1358.3 1251.4,1359.1 1253.8,1359.9 1256.2,1360.6 1258.6,1361.4 1261.0,1362.1 1263.4,1362.9 1265.8,1363.7 1268.2,1364.4 1270.5,1365.2 1272.9,1365.9 1275.3,1366.7 1277.7,1367.4 1280.1,1368.1 1282.5,1368.9 1284.9,1369.6 1287.3,1370.3 1289.7,1371.1 1292.1,1371.8 1294.5,1372.5 1296.9,1373.2 1299.3,1373.9 1301.7,1374.6 1304.1,1375.3 1306.5,1376.1 1309.0,1376.8 1311.4,1377.5 1313.8,1378.2 1316.2,1378.8 1318.6,1379.5 1321.0,1380.2 1323.4,1380.9 1325.8,1381.6 1328.2,1382.3 1330.6,1383.0 1333.0,1383.6 1335.5,1384.3 1337.9,1385.0 1340.3,1385.6 1342.7,1386.3 1345.1,1386.9 1347.5,1387.6 1350.0,1388.2 1352.4,1388.9 1354.8,1389.5 1357.2,1390.2 1359.6,1390.8 1362.0,1391.5 1364.5,1392.1 1366.9,1392.7 1369.3,1393.3 1371.7,1394.0 1374.2,1394.6 1376.6,1395.2 1379.0,1395.8 1381.4,1396.4 1383.9,1397.0 1386.3,1397.6 1388.7,1398.2 1391.1,1398.8 1393.6,1399.4 1396.0,1400.0 1398.4,1400.6 1400.8,1401.2 1403.3,1401.8 1405.7,1402.3 1408.1,1402.9 1410.6,1403.5 1413.0,1404.0 1415.4,1404.6 1417.9,1405.2 1420.3,1405.7 1422.7,1406.3 1425.2,1406.8 1427.6,1407.4 1430.0,1407.9 1432.5,1408.4 1434.9,1409.0 1437.3,1409.5 1439.8,1410.0 1442.2,1410.6 1444.7,1411.1 1447.1,1411.6 1449.5,1412.1 1452.0,1412.6 1454.4,1413.1 1456.9,1413.6 1459.3,1414.1 1461.8,1414.6 1464.2,1415.0 1466.7,1415.5 1469.1,1416.0 1471.5,1416.5 1474.0,1416.9 1476.4,1417.4 1478.9,1417.8 1481.3,1418.3 1483.8,1418.7 1486.3,1419.1 1488.7,1419.6 1491.2,1420.0 1493.6,1420.4 1496.1,1420.8 1498.5,1421.2 1501.0,1421.6 1503.5,1422.0 1505.9,1422.4 1508.4,1422.8 1510.8,1423.2 1513.3,1423.6 1515.8,1423.9 1518.2,1424.3 1520.7,1424.6 1523.2,1425.0 1525.6,1425.3 1528.1,1425.7 1530.6,1426.0 1533.1,1426.3 1535.5,1426.6 1538.0,1426.9 1540.5,1427.2 1543.0,1427.5 1545.4,1427.8 1547.9,1428.1 1550.4,1428.4 1552.9,1428.7 1555.4,1428.9 1557.9,1429.2 1560.3,1429.4 1562.8,1429.7 1565.3,1429.9 1567.8,1430.1 1570.3,1430.3 1572.8,1430.6 1575.3,1430.8 1577.8,1430.9 1580.3,1431.1 1582.8,1431.3 1585.3,1431.5 1587.8,1431.7 1590.3,1431.8 1592.8,1432.0 1595.3,1432.1 1597.8,1432.2 1600.3,1432.4 1602.8,1432.5 1605.3,1432.6 1607.8,1432.7 1610.4,1432.8 1612.9,1432.9 1615.4,1432.9 1617.9,1433.0 1620.4,1433.1 1623.0,1433.1 1625.5,1433.2 1628.0,1433.2 1630.5,1433.2 1633.0,1433.2 1635.6,1433.2 1638.1,1433.2 1640.6,1433.2 1643.1,1433.2 1645.6,1433.1 1648.2,1433.1 1650.7,1433.0 1653.2,1433.0 1655.7,1432.9 1658.3,1432.8 1660.8,1432.7 1663.3,1432.6 1665.8,1432.5 1668.3,1432.3 1670.9,1432.2 1673.4,1432.0 1675.9,1431.9 1678.4,1431.7 1680.9,1431.5 1683.4,1431.3 1685.9,1431.1 1688.4,1430.9 1690.9,1430.7 1693.5,1430.4 1696.0,1430.2 1698.5,1429.9 1701.0,1429.6 1703.5,1429.3 1705.9,1429.0 1708.4,1428.7 1710.9,1428.4 1713.4,1428.1 1715.9,1427.7 1718.4,1427.3 1720.9,1427.0 1723.3,1426.6 1725.8,1426.2 1728.3,1425.8 1730.7,1425.3 1733.2,1424.9 1735.7,1424.4 1738.1,1424.0 1740.6,1423.5 1743.0,1423.0 1745.5,1422.5 1747.9,1422.0 1750.4,1421.4 1752.8,1420.9 1755.2,1420.3 1757.6,1419.7 1760.1,1419.1 1762.5,1418.5 1764.9,1417.9 1767.3,1417.3 1769.7,1416.6 1772.1,1415.9 1774.5,1415.3 1776.9,1414.6 1779.3,1413.8 1781.6,1413.1 1784.0,1412.4 1786.4,1411.6 1788.7,1410.8 1791.1,1410.1 1793.5,1409.3 1795.8,1408.4 1798.1,1407.6 1800.5,1406.7 1802.8,1405.9 1805.1,1405.0 1807.4,1404.1 1809.8,1403.2 1812.1,1402.2 1814.4,1401.3 1816.6,1400.3 1818.9,1399.3 1821.2,1398.3 1823.5,1397.3 1825.7,1396.3 1828.0,1395.2 1830.2,1394.2 1832.5,1393.1 1834.7,1392.0 1837.0,1390.9 1839.2,1389.7 1841.4,1388.6 1843.6,1387.4 1845.8,1386.3 1848.0,1385.1 1850.2,1383.9 1852.4,1382.6 1854.5,1381.4 1856.7,1380.2 1858.9,1378.9 1861.0,1377.6 1863.2,1376.3 1865.3,1375.0 1867.4,1373.7 1869.6,1372.4 1871.7,1371.1 1873.8,1369.7 1875.9,1368.3 1878.0,1367.0 1880.1,1365.6 1882.2,1364.2 1884.3,1362.8 1886.3,1361.3 1888.4,1359.9 1890.5,1358.5 1892.5,1357.0 1894.6,1355.5 1896.6,1354.1 1898.6,1352.6 1900.7,1351.1 1902.7,1349.6 1904.7,1348.1 1906.7,1346.6 1908.7,1345.0 1910.7,1343.5 1912.7,1341.9 1914.6,1340.4 1916.6,1338.8 1918.6,1337.2 1920.5,1335.7 1922.5,1334.1 1924.4,1332.5 1926.4,1330.9 1928.3,1329.3 1930.2,1327.6 1932.1,1326.0 1934.0,1324.4 1935.9,1322.7 1937.8,1321.1 1939.7,1319.5 1941.6,1317.8 1943.5,1316.1 1945.3,1314.5 1947.2,1312.8 1949.1,1311.1 1950.9,1309.4 1952.8,1307.8 1954.6,1306.1 1956.4,1304.4 1958.2,1302.7 1960.1,1301.0 1961.9,1299.3 1963.7,1297.6 1965.5,1295.9 1967.3,1294.2 1969.1,1292.4 1970.9,1290.7 1972.7,1289.0 1974.4,1287.3 1976.2,1285.6 1978.0,1283.8 1979.8,1282.1 1981.6,1280.4 1983.3,1278.6 1985.1,1276.9 1986.9,1275.2 1988.7,1273.4 1990.4,1271.7 1992.2,1270.0 1994.0,1268.2 1995.8,1266.5 1997.5,1264.7 1999.3,1263.0 2001.1,1261.3 2002.9,1259.5 2004.7,1257.8 2006.4,1256.1 2008.2,1254.3 2010.0,1252.6 2011.8,1250.9 2013.6,1249.1 2015.4,1247.4 2017.2,1245.7 2019.0,1243.9 2020.8,1242.2 2022.6,1240.5 2024.5,1238.8 2026.3,1237.1 2028.1,1235.4 2030.0,1233.6 2031.8,1231.9 2033.6,1230.2 2035.5,1228.5 2037.4,1226.8 2039.2,1225.1 2041.1,1223.5 2043.0,1221.8 2044.9,1220.1 2046.8,1218.4 2048.7,1216.8 2050.7,1215.1 2052.6,1213.4 2054.5,1211.8 2056.5,1210.1 2058.4,1208.5 2060.4,1206.9 2062.4,1205.2 2064.4,1203.6 2066.4,1202.0 2068.4,1200.4 2070.5,1198.8 2072.5,1197.3 2074.6,1195.8 2076.6,1194.3 2078.7,1192.9 2080.8,1191.5 2082.9,1190.2 2085.1,1189.0 2087.2,1187.8 2089.4,1186.8 2091.6,1185.8 2093.8,1184.9 2096.0,1184.1 2098.2,1183.4 2100.5,1182.8 2102.8,1182.3 2105.1,1182.0 2107.4,1181.8 2109.7,1181.7 2112.1,1181.8 2114.5,1182.0 2116.9,1182.4 2119.3,1182.9 2121.8,1183.7 2124.3,1185.1 2125.8,1187.1 2126.7,1189.4 2127.7,1191.8 2128.6,1194.2 2129.5,1196.5 2130.4,1198.9 2131.3,1201.2 2132.2,1203.6 2133.1,1206.0 2134.0,1208.4 2134.8,1210.7 2135.6,1213.1 2136.5,1215.5 2137.3,1217.9 2138.1,1220.3 2138.9,1222.7 2139.7,1225.1 2140.4,1227.5 2141.2,1229.9 2141.9,1232.3 2142.7,1234.7 2143.4,1237.1 2144.1,1239.5 2144.8,1241.9 2145.5,1244.3 2146.2,1246.7 2146.9,1249.2 2147.5,1251.6 2148.2,1254.0 2148.8,1256.5 2149.5,1258.9 2150.1,1261.3 2150.7,1263.8 2151.3,1266.2 2151.9,1268.6 2152.5,1271.1 2153.1,1273.5 2153.7,1276.0 2154.2,1278.4 2154.8,1280.9 2155.3,1283.3 2155.9,1285.8 2156.4,1288.2 2156.9,1290.7 2157.4,1293.1 2157.9,1295.6 2158.4,1298.1 2158.9,1300.5 2159.4,1303.0 2159.9,1305.5 2160.3,1307.9 2160.8,1310.4 2161.2,1312.9 2161.7,1315.4 2162.1,1317.8 2162.6,1320.3 2163.0,1322.8 2163.4,1325.3 2163.8,1327.8 2164.2,1330.3 2164.6,1332.7 2165.0,1335.2 2165.4,1337.7 2165.8,1340.2 2166.2,1342.7 2166.5,1345.2 2166.9,1347.7 2167.2,1350.2 2167.6,1352.7 2167.9,1355.2 2168.3,1357.7 2168.6,1360.2 2169.0,1362.7 2169.3,1365.2 2169.6,1367.7 2169.9,1370.2 2170.2,1372.7 2170.5,1375.2 2170.9,1377.7 2171.2,1380.2 2171.4,1382.7 2171.7,1385.2 2172.0,1387.7 2172.3,1390.2 2172.6,1392.7 2172.9,1395.2 2173.2,1397.7 2173.4,1400.2 2173.7,1402.7 2174.0,1405.3 2174.2,1407.8 2174.5,1410.3 2174.7,1412.8 2175.0,1415.3 2175.2,1417.8 2175.5,1420.3 2175.7,1422.8 2176.0,1425.3 2176.2,1427.9 2176.5,1430.4 2176.7,1432.9 2176.9,1435.4 2177.2,1437.9 2177.4,1440.4 2177.7,1442.9 2177.9,1445.4 2178.1,1447.9 2178.3,1450.5 2178.6,1453.0 2178.8,1455.5 2179.0,1458.0 2179.3,1460.5 2179.5,1463.0 2179.7,1465.5 2179.9,1468.0 2180.2,1470.5 2180.4,1473.0 2180.6,1475.5 2180.8,1478.0 2181.1,1480.5 2181.3,1483.0 2181.5,1485.5 2181.7,1488.0 2182.0,1490.6 2182.2,1493.1 2182.4,1495.6 2182.7,1498.0 2182.9,1500.5 2183.1,1503.0 2183.4,1505.5 2183.6,1508.0 2183.8,1510.5 2184.1,1513.0 2184.3,1515.5 2185.0,1518.0" fill="none" stroke="#cb3d37" stroke-width="6.8" stroke-linejoin="round"/>
<line x1="286.5" y1="85.6" x2="286.5" y2="1522.8" stroke="#000" stroke-width="5.8"/>
<line x1="283.5" y1="1519.8" x2="2188.1" y2="1519.8" stroke="#000" stroke-width="5.8"/>
<line x1="286.5" y1="87.1" x2="2188.1" y2="87.1" stroke="#000" stroke-width="3"/>
<line x1="2186.6" y1="85.6" x2="2186.6" y2="1519.8" stroke="#000" stroke-width="3"/>
<line x1="286.5" y1="1519.8" x2="315.5" y2="1519.8" stroke="#000" stroke-width="5.5"/>
<line x1="286.5" y1="1340.7" x2="315.5" y2="1340.7" stroke="#000" stroke-width="5.5"/>
<line x1="286.5" y1="1161.6" x2="315.5" y2="1161.6" stroke="#000" stroke-width="5.5"/>
<line x1="286.5" y1="982.5" x2="315.5" y2="982.5" stroke="#000" stroke-width="5.5"/>
<line x1="286.5" y1="803.4" x2="315.5" y2="803.4" stroke="#000" stroke-width="5.5"/>
<line x1="286.5" y1="624.3" x2="315.5" y2="624.3" stroke="#000" stroke-width="5.5"/>
<line x1="286.5" y1="445.2" x2="315.5" y2="445.2" stroke="#000" stroke-width="5.5"/>
<line x1="286.5" y1="266.1" x2="315.5" y2="266.1" stroke="#000" stroke-width="5.5"/>
<line x1="286.5" y1="87.0" x2="315.5" y2="87.0" stroke="#000" stroke-width="5.5"/>
<line x1="286.5" y1="1519.8" x2="286.5" y2="1492.3" stroke="#000" stroke-width="5.5"/>
<line x1="667.2" y1="1519.8" x2="667.2" y2="1492.3" stroke="#000" stroke-width="5.5"/>
<line x1="1046.6" y1="1519.8" x2="1046.6" y2="1492.3" stroke="#000" stroke-width="5.5"/>
<line x1="1426.8" y1="1519.8" x2="1426.8" y2="1492.3" stroke="#000" stroke-width="5.5"/>
<line x1="1807.0" y1="1519.8" x2="1807.0" y2="1492.3" stroke="#000" stroke-width="5.5"/>
<line x1="2188.0" y1="1519.8" x2="2188.0" y2="1492.3" stroke="#555" stroke-width="5.5"/>
<line x1="1170.5" y1="191.5" x2="1327.5" y2="191.5" stroke="#000" stroke-width="7"/>
<line x1="1170.5" y1="348.7" x2="1327.5" y2="348.7" stroke="#cb3d37" stroke-width="7"/>
<text class="t" x="136.8" y="1548.2">0.0</text>
<text class="t" x="135.3" y="1368.8">0.5</text>
<text class="t" x="136.8" y="1189.4">1.0</text>
<text class="t" x="135.3" y="1010.0">1.5</text>
<text class="t" x="136.8" y="831.6">2.0</text>
<text class="t" x="135.3" y="652.2">2.5</text>
<text class="t" x="136.8" y="472.8">3.0</text>
<text class="t" x="135.3" y="294.4">3.5</text>
<text class="t" x="136.8" y="115.0">4.0</text>
<text class="t" textLength="50.4" lengthAdjust="spacing" x="262.4" y="1623.0">0</text>
<text class="t" textLength="145.0" lengthAdjust="spacing" x="594.0" y="1623.0">200</text>
<text class="t" textLength="145.0" lengthAdjust="spacing" x="975.0" y="1623.0">400</text>
<text class="t" textLength="144.0" lengthAdjust="spacing" x="1354.0" y="1623.0">600</text>
<text class="t" textLength="141.0" lengthAdjust="spacing" x="1736.0" y="1623.0">800</text>
<text class="t" textLength="186.0" lengthAdjust="spacing" x="2095.8" y="1623.0">1000</text>
<text class="t" textLength="563.2" lengthAdjust="spacing" x="955.0" y="1760.5">Arc length (m)</text>
<text class="t" textLength="1001.9" lengthAdjust="spacing" transform="translate(91.5,1304.2) rotate(-90)">Bending moment (MN·m)</text>
<text class="l" textLength="677.6" lengthAdjust="spacing" x="1345.6" y="213.2">Numerical solution</text>
<text class="l" textLength="693.1" lengthAdjust="spacing" x="1344.8" y="370.0">Simulation solution</text>
</svg>
</body></html>
